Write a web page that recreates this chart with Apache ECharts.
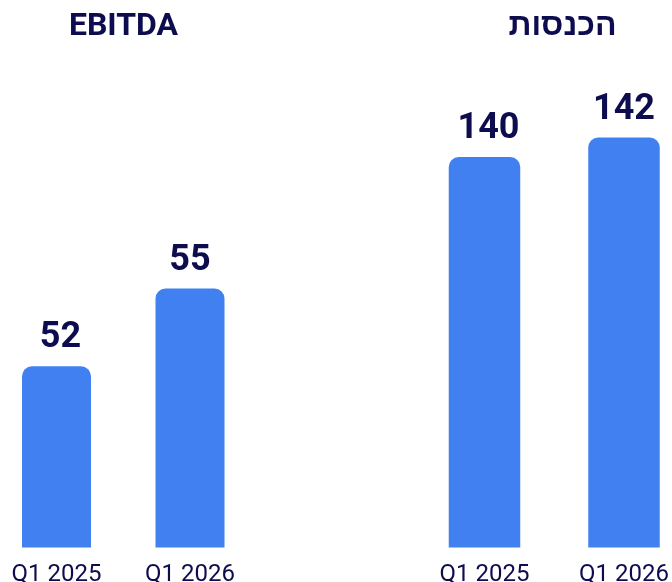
<!DOCTYPE html>
<html>
<head>
<meta charset="utf-8">
<script src="https://cdn.jsdelivr.net/npm/echarts@6/dist/echarts.min.js"></script>
<style>
html,body{margin:0;padding:0;background:#fff;}
#c{width:672px;height:582px;}
</style>
</head>
<body>
<div id="c"></div>
<script>
const categories = ['Q1 2025', 'Q1 2026'];
const ebitdaValues = [52, 55];
const revenueValues = [140, 142];
const titleLeft = 'EBITDA';
const titleRight = 'הכנסות';

const FONT = "Roboto, 'Liberation Sans', 'DejaVu Sans', sans-serif";
const NAVY = '#0c0c4e';
const BLUE = '#4180f0';
const FIRST_LABEL_SHIFT = [4, 0];

const chart = echarts.init(document.getElementById('c'), null, {renderer: 'canvas'});

function xAxisFor(idx) {
  return {
    type: 'category', gridIndex: idx, data: categories,
    axisLine: {show: false}, axisTick: {show: false},
    axisLabel: {color: NAVY, fontSize: 24, fontFamily: FONT, margin: 15, hideOverlap: false}
  };
}
function yAxisFor(idx, min, max) {
  return {
    type: 'value', gridIndex: idx, min: min, max: max,
    show: false, splitLine: {show: false}
  };
}
function barSeries(idx, values, width) {
  return {
    type: 'bar', xAxisIndex: idx, yAxisIndex: idx,
    data: values.map((v, i) => i === 0 ? {value: v, label: {offset: FIRST_LABEL_SHIFT}} : v),
    barWidth: width,
    itemStyle: {color: BLUE, borderRadius: [10, 10, 0, 0]},
    label: {
      show: true, position: 'top', distance: 10,
      color: NAVY, fontSize: 36, fontWeight: 'bold', fontFamily: FONT
    }
  };
}

chart.setOption({
  backgroundColor: '#fff',
  animation: false,
  title: [
    {text: titleLeft, left: 118.5, top: 6, textAlign: 'center',
     textStyle: {color: NAVY, fontSize: 32, fontWeight: 'bold', fontFamily: FONT}},
    {text: titleRight, left: 557.5, top: 6, textAlign: 'center',
     textStyle: {color: NAVY, fontSize: 32, fontWeight: 'bold', fontFamily: FONT}}
  ],
  grid: [
    {left: -10.25, width: 267, bottom: 34.5, top: 159, containLabel: false, outerBoundsMode: 'none'},
    {left: 414.75, width: 279, bottom: 34.5, top: 59.5, containLabel: false, outerBoundsMode: 'none'}
  ],
  xAxis: [xAxisFor(0), xAxisFor(1)],
  yAxis: [yAxisFor(0, 45, 60), yAxisFor(1, 100, 150)],
  series: [barSeries(0, ebitdaValues, 69), barSeries(1, revenueValues, 71.5)]
});
</script>
</body>
</html>
